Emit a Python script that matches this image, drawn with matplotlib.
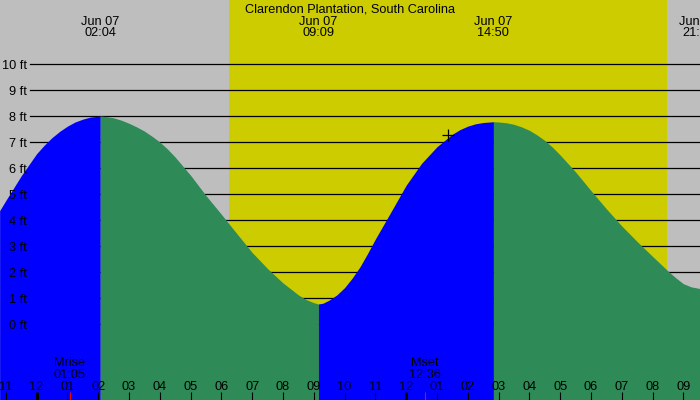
import matplotlib
matplotlib.use("Agg")
import matplotlib.pyplot as plt
import numpy as np

plt.rcParams['font.family'] = ['Liberation Sans', 'DejaVu Sans']

title = 'Clarendon Plantation, South Carolina'
date_label = 'Jun 07'

# tide height (ft), time in hours after midnight Jun 07
tide_hours = [-1.2, -1.0, -0.5, 0.0, 0.25, 0.5, 0.75, 1.0, 1.25, 1.5, 1.75, 2.067,
              2.25, 2.5, 2.75, 3.0, 3.25, 3.5, 3.75, 4.0, 4.25, 4.5, 5.0, 5.5, 6.0, 6.5,
              7.0, 7.5, 8.0, 8.5, 8.75, 9.0, 9.15,
              9.3, 9.5, 9.75, 10.0, 10.25, 10.5, 10.75, 11.0, 11.5, 12.0, 12.5, 13.0, 13.5,
              13.75, 14.0, 14.25, 14.5, 14.833,
              15.0, 15.25, 15.5, 15.75, 16.0, 16.25, 16.5, 16.75, 17.0, 17.5, 18.0, 18.5,
              19.0, 19.5, 20.0, 20.5, 20.75, 21.0, 21.25, 21.6]
tide_ft = [4.36, 4.75, 5.70, 6.55, 6.88, 7.17, 7.41, 7.61, 7.77, 7.88, 7.96, 8.00,
           7.98, 7.93, 7.84, 7.72, 7.58, 7.42, 7.22, 7.00, 6.73, 6.42, 5.72, 4.94, 4.22, 3.48,
           2.75, 2.13, 1.58, 1.12, 0.94, 0.82, 0.77,
           0.80, 0.92, 1.12, 1.40, 1.77, 2.20, 2.72, 3.27, 4.30, 5.34, 6.18, 6.82, 7.30,
           7.48, 7.61, 7.70, 7.75, 7.78,
           7.77, 7.74, 7.68, 7.58, 7.45, 7.27, 7.06, 6.80, 6.50, 5.85, 5.13, 4.43,
           3.77, 3.17, 2.60, 2.04, 1.78, 1.55, 1.43, 1.35]

# high / low tide times shown on top
extreme_hours = [2.067, 9.15, 14.833, 21.483]
extreme_labels = ['02:04', '09:09', '14:50', '21:29']

sunrise, sunset = 6.25, 20.47
moon_hours = [1.083, 12.6]
moon_names = ['Mrise', 'Mset']
moon_times = ['01:05', '12:36']

now_hour, now_ft = 13.37, 7.27

hour_ticks = list(range(-1, 22))
ft_levels = list(range(0, 11))

x0, x1 = -1.188, 21.54
y0, y1 = -2.923, 12.462
FS = 9.2

fig = plt.figure(figsize=(7, 4), dpi=100)
ax = fig.add_axes([0, 0, 1, 1])
ax.set_xlim(x0, x1)
ax.set_ylim(y0, y1)
ax.axis('off')
ax.add_patch(plt.Rectangle((0, 0), 1, 1, transform=ax.transAxes, color='#bebebe', zorder=-2))

ax.axvspan(sunrise, sunset, color='#cccc00', zorder=0, lw=0)

for lev in ft_levels:
    ax.axhline(lev, xmin=29.5 / 700, xmax=1, color='black', lw=0.9, zorder=1)

t = np.array(tide_hours)
h = np.array(tide_ft)
bounds = [t[0], 2.067, 9.15, 14.833, t[-1]]
colors = ['#0000ff', '#2e8b57', '#0000ff', '#2e8b57']
for (a, b), c in zip(zip(bounds[:-1], bounds[1:]), colors):
    m = (t >= a) & (t <= b)
    ax.fill_between(t[m], -3.5, h[m], color=c, lw=0, zorder=2)

ytr = ax.get_yaxis_transform()
for lev in ft_levels:
    ax.text(27 / 700, lev - 4.5 / 26, '%d ft' % lev, transform=ytr, ha='right',
            va='baseline', fontsize=FS, zorder=4)

xtr = ax.get_xaxis_transform()
ax.text(0.5, 1 - 12.5 / 400, title, transform=ax.transAxes, ha='center', va='baseline',
        fontsize=FS)
for hr, lab in zip(extreme_hours, extreme_labels):
    ax.text(hr, 1 - 25 / 400, date_label, transform=xtr, ha='center', va='baseline', fontsize=FS)
    ax.text(hr, 1 - 36 / 400, lab, transform=xtr, ha='center', va='baseline', fontsize=FS)

for hr in hour_ticks:
    lab = '%02d' % (hr % 12 if hr % 12 else 12)
    ax.text(hr, 10 / 400, lab, transform=xtr, ha='center', va='baseline', fontsize=FS, zorder=4)
    lw = 2.2 if hr % 12 == 0 else 0.8
    ax.plot([hr, hr], [0, 8.3 / 400], transform=xtr, color='black', lw=lw, zorder=4,
            solid_capstyle='butt')

for hr, name, tm in zip(moon_hours, moon_names, moon_times):
    ax.plot([hr, hr], [0, 8.3 / 400], transform=xtr, color='red', lw=0.8, zorder=5,
            solid_capstyle='butt')
    ax.text(hr, 33.5 / 400, name, transform=xtr, ha='center', va='baseline', fontsize=FS, zorder=4)
    ax.text(hr, 22 / 400, tm, transform=xtr, ha='center', va='baseline', fontsize=FS, zorder=4)

ax.plot([now_hour], [now_ft], marker='+', color='black', ms=8, mew=0.9, zorder=5)

fig.savefig('out.png', dpi=100)
